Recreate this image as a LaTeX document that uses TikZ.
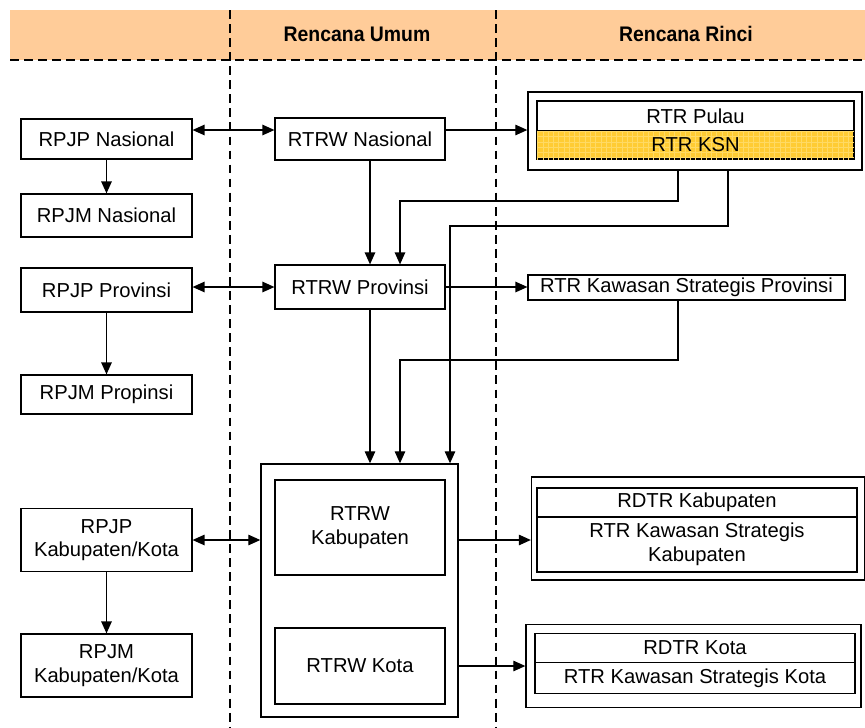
\documentclass[tikz,border=0pt]{standalone}
\usepackage{fontspec}
\setmainfont{Liberation Sans}
\newfontfamily\headfont[FakeStretch=0.92]{Liberation Sans}
\usetikzlibrary{arrows, arrows.meta}
\usetikzlibrary{patterns}
\definecolor{headorange}{RGB}{255,204,153}
\definecolor{ksnyellow}{RGB}{255,204,51}
\definecolor{ksngrid}{RGB}{255,218,100}

\begin{document}
\begin{tikzpicture}[x=0.02cm, y=-0.02cm,
    box/.style={draw, line width=0.7pt, fill=white, inner sep=1pt, align=center,
      font=\fontsize{11.5}{13.5}\selectfont},
    grp/.style={draw, line width=0.8pt, fill=white, inner sep=0pt},
    head/.style={font=\headfont\bfseries\fontsize{12}{14}\selectfont},
    sep/.style={line width=0.8pt, dash pattern=on 5pt off 3pt},
    arr/.style={line width=0.7pt, -{Triangle[length=2.4mm, width=2.1mm]}},
    darr/.style={line width=0.7pt, {Triangle[length=2.4mm, width=2.1mm]}-{Triangle[length=2.4mm, width=2.1mm]}}]
      \useasboundingbox (0,0) rectangle (865,727);

      % header band and column separators
      \fill[headorange] (10,10) rectangle (865,60);
      \draw[sep] (10,60) -- (865,60);
      \draw[sep] (230,10) -- (230,727);
      \draw[sep] (496,10) -- (496,727);
      \node[head] (umum) at (357,34) {Rencana Umum};
      \node[head] (rinci) at (686,34) {Rencana Rinci};

      % left column
      \node[box, minimum width=3.42cm, minimum height=0.8cm] (rpjpnas) at (106.5,139) {RPJP Nasional};
      \node[box, minimum width=3.42cm, minimum height=0.86cm] (rpjmnas) at (106.5,215.5) {RPJM Nasional};
      \node[box, minimum width=3.42cm, minimum height=0.88cm] (rpjpprov) at (106.5,290) {RPJP Provinsi};
      \node[box, minimum width=3.42cm, minimum height=0.78cm] (rpjmprov) at (106.5,394.5) {RPJM Propinsi};
      \node[box, minimum width=3.42cm, minimum height=1.26cm] (rpjpkab) at (106.5,540) {RPJP\\Kabupaten/Kota};
      \node[box, minimum width=3.42cm, minimum height=1.26cm] (rpjmkab) at (106.5,665.5) {RPJM\\Kabupaten/Kota};

      % middle column
      \node[box, minimum width=3.4cm, minimum height=0.84cm] (rtrwnas) at (360,139) {RTRW Nasional};
      \node[box, minimum width=3.4cm, minimum height=0.88cm] (rtrwprov) at (360,287) {RTRW Provinsi};
      \node[grp, minimum width=3.94cm, minimum height=5.06cm] (bigbox) at (359.5,590.5) {};
      \node[box, minimum width=3.4cm, minimum height=1.9cm] (rtrwkab) at (360,527.5) {RTRW\\Kabupaten};
      \node[box, minimum width=3.4cm, minimum height=1.52cm] (rtrwkota) at (360,666) {RTRW Kota};

      % right column
      \node[grp, minimum width=6.68cm, minimum height=1.56cm] (rtrgrp) at (695,131) {};
      \node[box, minimum width=6.34cm, minimum height=0.6cm] (pulau) at (695.5,116) {RTR Pulau};
      \node[box, minimum width=6.34cm, minimum height=0.56cm, fill=ksnyellow,
        postaction={pattern=grid, pattern color=ksngrid}] (ksn) at (695.5,145) {};
      \node[font=\fontsize{11.5}{13.5}\selectfont] (ksntext) at (ksn) {RTR KSN};
      \node[box, minimum width=6.34cm, minimum height=0.5cm] (ksp) at (686.5,287.5) {RTR Kawasan Strategis Provinsi};

      \node[grp, minimum width=6.66cm, minimum height=2.06cm] (kabgrp) at (698,528.5) {};
      \node[box, minimum width=6.4cm, minimum height=0.58cm] (rdtrkab) at (697,502.5) {RDTR Kabupaten};
      \node[box, minimum width=6.4cm, minimum height=1.1cm] (kskab) at (697,544.5) {RTR Kawasan Strategis\\Kabupaten};

      \node[grp, minimum width=6.7cm, minimum height=1.66cm] (kotagrp) at (693.5,666) {};
      \node[box, minimum width=6.4cm, minimum height=0.58cm] (rdtrkota) at (695,648) {RDTR Kota};
      \node[box, minimum width=6.4cm, minimum height=0.62cm] (kskota) at (695,678) {RTR Kawasan Strategis Kota};

      % connectors
      \coordinate (na) at ([yshift=0.18cm]rtrwnas.east);
      \draw[darr] ([yshift=0.18cm]rpjpnas.east) -- ([yshift=0.18cm]rtrwnas.west);
      \draw[arr] (na) -- (na -| rtrgrp.west);
      \draw[arr] (rpjpnas) -- (rpjmnas);
      \draw[darr] (rpjpprov.east |- rtrwprov) -- (rtrwprov.west);
      \draw[arr] (rtrwprov.east) -- (rtrwprov.east -| ksp.west);
      \draw[arr] (rpjpprov) -- (rpjmprov);
      \draw[darr] (rpjpkab) -- (bigbox.west |- rpjpkab);
      \draw[arr] (rpjpkab) -- (rpjmkab);

      \coordinate (nv) at ([xshift=0.2cm]rtrwnas.south);
      \draw[arr] (nv) -- (nv |- rtrwprov.north);
      \coordinate (pv) at ([xshift=0.2cm]rtrwprov.south);
      \draw[arr] (pv) -- (pv |- bigbox.north);

      \coordinate (n1) at (678,201);
      \coordinate (n2) at (400,201);
      \draw[arr] (rtrgrp.south -| n1) -- (n1) -- (n2) -- (rtrwprov.north -| n2);
      \coordinate (n3) at (728,226);
      \coordinate (n4) at (450,226);
      \draw[arr] (rtrgrp.south -| n3) -- (n3) -- (n4) -- (bigbox.north -| n4);
      \coordinate (p1) at (678,360);
      \coordinate (p2) at (400,360);
      \draw[arr] (ksp.south -| p1) -- (p1) -- (p2) -- (bigbox.north -| p2);

      \coordinate (kin) at ([yshift=-0.23cm]kabgrp.west);
      \draw[arr] (bigbox.east |- kin) -- (kin);
      \draw[arr] (bigbox.east |- kotagrp) -- (kotagrp.west);
    \end{tikzpicture}
\end{document}
